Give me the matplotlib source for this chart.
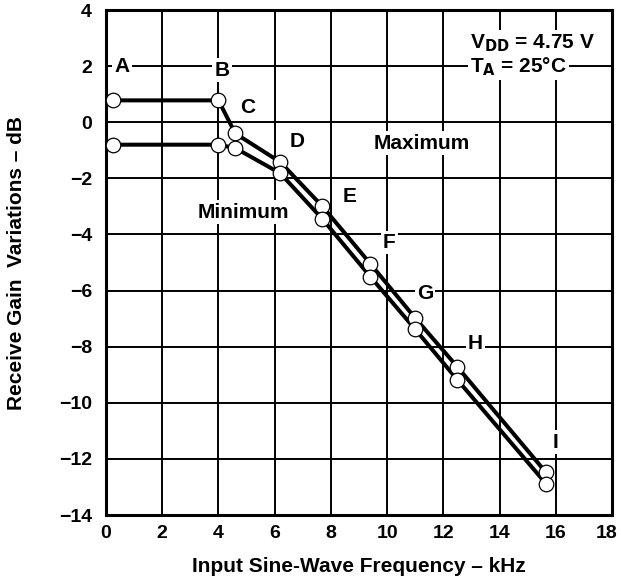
import matplotlib.pyplot as plt
import matplotlib.transforms as mtransforms

plt.rcParams['font.family'] = ['Liberation Sans', 'DejaVu Sans']
plt.rcParams['font.weight'] = 'bold'

# data (kHz, dB)
freq = [0.25, 4.0, 4.6, 6.2, 7.7, 9.4, 11.0, 12.5, 15.65]
gain_max = [0.78, 0.78, -0.4, -1.42, -3.0, -5.04, -6.98, -8.72, -12.48]
gain_min = [-0.8, -0.8, -0.92, -1.82, -3.45, -5.5, -7.38, -9.18, -12.88]
point_labels = ['A', 'B', 'C', 'D', 'E', 'F', 'G', 'H', 'I']
label_x = [0.57, 4.13, 5.05, 6.8, 8.65, 10.07, 11.35, 13.13, 15.98]
label_y = [1.97, 1.86, 0.54, -0.67, -2.63, -4.3, -6.12, -7.9, -11.4]

fig = plt.figure(figsize=(6.21, 5.83), dpi=100)
ax = fig.add_axes([0.1707, 0.1166, 0.8148, 0.8662])

for g in (gain_max, gain_min):
    ax.plot(freq, g, color='black', linewidth=2.9, zorder=3, solid_capstyle='round')
    ax.plot(freq, g, linestyle='none', marker='o', markersize=10.5,
            markerfacecolor='white', markeredgecolor='black',
            markeredgewidth=0.9, zorder=4)

box = dict(facecolor='white', edgecolor='none', pad=1.5)
for lab, lx, ly in zip(point_labels, label_x, label_y):
    ax.text(lx, ly, lab, ha='center', va='center', fontsize=15,
            fontweight='bold', bbox=box, zorder=2)

ax.text(11.25, -0.74, 'Maximum', ha='center', va='center', fontsize=15,
        fontweight='bold', bbox=box, zorder=2)
ax.text(4.9, -3.2, 'Minimum', ha='center', va='center', fontsize=15,
        fontweight='bold', bbox=box, zorder=2)
ax.text(12.95, 2.82, r'V$_{\mathbf{DD}}$ = 4.75 V', ha='left', va='center',
        fontsize=15, fontweight='bold', bbox=box, zorder=2)
ax.text(12.95, 1.97, r'T$_{\mathbf{A}}$ = 25°C', ha='left', va='center',
        fontsize=15, fontweight='bold', bbox=box, zorder=2)

ax.set_xlim(0, 18)
ax.set_ylim(-14, 4)
ax.set_xticks(range(0, 19, 2))
ax.set_yticks(range(-14, 5, 2))
ax.grid(True, color='black', linewidth=1.4, zorder=1)
ax.set_axisbelow(True)
for s in ax.spines.values():
    s.set_linewidth(2.2)
ax.tick_params(length=0, labelsize=14)
ax.tick_params(axis='x', pad=7)
ax.tick_params(axis='y', pad=10)
for t in ax.get_xticklabels() + ax.get_yticklabels():
    t.set_fontweight('bold')

# keep the last x tick label inside the figure
shift = mtransforms.ScaledTranslation(-4 / 72, 0, fig.dpi_scale_trans)
last = ax.get_xticklabels()[-1]
last.set_transform(last.get_transform() + shift)

ax.set_xlabel('Input Sine-Wave Frequency – kHz', fontsize=15, fontweight='bold', labelpad=11)
ax.set_ylabel('Receive Gain  Variations – dB', fontsize=15, fontweight='bold')
ax.yaxis.set_label_coords(-0.158, 0.5)

fig.savefig('out.png', dpi=100)
